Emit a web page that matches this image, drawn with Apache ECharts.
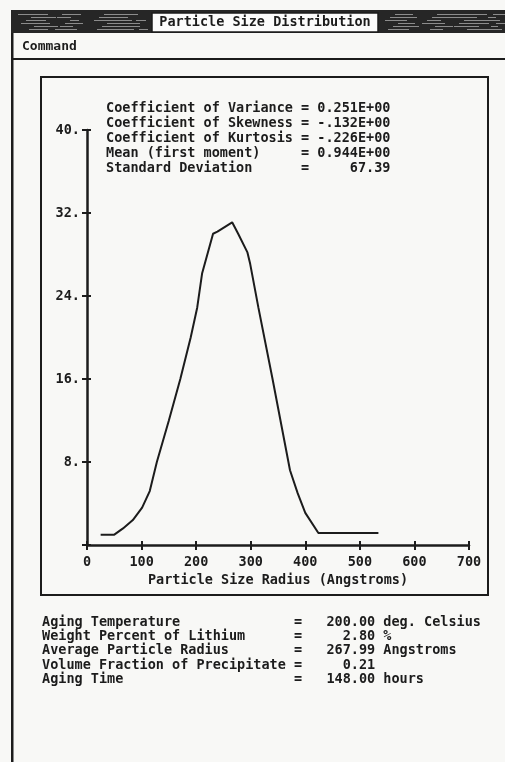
<!DOCTYPE html>
<html>
<head>
<meta charset="utf-8">
<script src="https://cdn.jsdelivr.net/npm/echarts@6/dist/echarts.min.js"></script>
<style>
html,body{margin:0;padding:0;background:#f8f8f6;}
#chart{width:505px;height:762px;}
</style>
</head>
<body>
<div id="chart"></div>
<script>
// Particle size radius (Angstroms) and frequency values
var radius = [25, 50, 66, 84, 101, 115, 128, 150, 171, 190, 202, 211, 231, 239, 266, 277, 294, 299, 314, 340, 372, 386, 400, 424, 534];
var frequency = [1.0, 1.0, 1.6, 2.4, 3.6, 5.2, 8.0, 12.0, 16.0, 20.0, 22.9, 26.2, 30.0, 30.2, 31.1, 30.0, 28.2, 27.1, 22.9, 16.0, 7.2, 5.0, 3.1, 1.15, 1.15];
var yTickLabels = ['', '8.', '16.', '24.', '32.', '40.'];
var statsLines = [
  'Coefficient of Variance = 0.251E+00',
  'Coefficient of Skewness = -.132E+00',
  'Coefficient of Kurtosis = -.226E+00',
  'Mean (first moment)     = 0.944E+00',
  'Standard Deviation      =     67.39'
];
var infoLines = [
  'Aging Temperature              =   200.00 deg. Celsius',
  'Weight Percent of Lithium      =     2.80 %',
  'Average Particle Radius        =   267.99 Angstroms',
  'Volume Fraction of Precipitate =     0.21',
  'Aging Time                     =   148.00 hours'
];
var titleText = 'Particle Size Distribution';
var menuText = 'Command';
var xAxisTitle = 'Particle Size Radius (Angstroms)';

var ink = '#1c1c1c';
var FONT = "'DejaVu Sans Mono', monospace";
var chart = echarts.init(document.getElementById('chart'), null, {renderer: 'canvas'});

var pts = radius.map(function (r, i) { return [r, frequency[i]]; });

function texture() {
  var els = [];
  var rows = [14, 17, 20, 23, 26, 29];
  var segs = [[18, 30], [55, 22], [90, 40], [125, 15], [385, 30], [420, 25], [450, 35], [480, 20]];
  rows.forEach(function (y, ri) {
    segs.forEach(function (s, si) {
      var x = s[0] + ((ri * 13 + si * 7) % 18);
      var w = s[1] - (ri * 5 + si * 3) % 14;
      if (x + w > 148 && x < 382) return;
      els.push({type: 'rect', shape: {x: x, y: y, width: w, height: 1}, style: {fill: '#8c8c8c'}, z: 3});
    });
  });
  return els;
}

var graphics = [
  // window left border
  {type: 'rect', shape: {x: 11, y: 10, width: 2.5, height: 752}, style: {fill: ink}, z: 2},
  // title bar
  {type: 'rect', shape: {x: 11, y: 10, width: 494, height: 23}, style: {fill: '#262626'}, z: 2},
  {type: 'rect', shape: {x: 152, y: 13, width: 226, height: 19}, style: {fill: '#fbfbfb', stroke: ink, lineWidth: 1.5}, z: 4},
  {type: 'text', x: 265, y: 22.5, style: {text: titleText, font: 'bold 13.5px ' + FONT, fill: ink, align: 'center', verticalAlign: 'middle'}, z: 5},
  // menu line
  {type: 'text', x: 22, y: 47, style: {text: menuText, font: 'bold 13px ' + FONT, fill: ink, align: 'left', verticalAlign: 'middle'}, z: 5},
  {type: 'rect', shape: {x: 11, y: 58, width: 494, height: 2}, style: {fill: ink}, z: 2},
  // plot frame
  {type: 'rect', shape: {x: 41, y: 77, width: 447, height: 518}, style: {fill: 'none', stroke: ink, lineWidth: 2}, z: 2},
  // statistics
  {type: 'text', x: 106, y: 100.5, style: {text: statsLines.join('\n'), font: 'bold 13.5px ' + FONT, lineHeight: 15, fill: ink, align: 'left', verticalAlign: 'top'}, z: 5},
  // info block
  {type: 'text', x: 42, y: 615, style: {text: infoLines.join('\n'), font: 'bold 13.5px ' + FONT, lineHeight: 14.3, fill: ink, align: 'left', verticalAlign: 'top'}, z: 5}
].concat(texture());

var axisLine = {show: true, lineStyle: {color: ink, width: 2.5}};
var option = {
  backgroundColor: '#f8f8f6',
  animation: false,
  grid: {left: 87, right: 36, top: 130, bottom: 217, containLabel: false},
  xAxis: [{
    type: 'value', min: 0, max: 700, interval: 100,
    axisLine: axisLine,
    axisTick: {show: true, length: 5, lineStyle: {color: ink, width: 2}},
    axisLabel: {show: true, margin: 10, color: ink, fontFamily: FONT, fontWeight: 'bold', fontSize: 13.5},
    splitLine: {show: false},
    name: xAxisTitle, nameLocation: 'middle', nameGap: 27,
    nameTextStyle: {color: ink, fontFamily: FONT, fontWeight: 'bold', fontSize: 13.5}
  }, {
    type: 'value', min: 0, max: 700, interval: 100, position: 'bottom',
    axisLine: {show: false},
    axisTick: {show: true, inside: true, length: 4, lineStyle: {color: ink, width: 2}},
    axisLabel: {show: false}, splitLine: {show: false}
  }],
  yAxis: [{
    type: 'value', min: 0, max: 40, interval: 8,
    axisLine: axisLine,
    axisTick: {show: true, length: 5, lineStyle: {color: ink, width: 2}},
    axisLabel: {show: true, margin: 7, color: ink, fontFamily: FONT, fontWeight: 'bold', fontSize: 13.5,
      formatter: function (v) { return yTickLabels[Math.round(v / 8)]; }},
    splitLine: {show: false}
  }, {
    type: 'value', min: 0, max: 40, interval: 8, position: 'left',
    axisLine: {show: false},
    axisTick: {show: true, inside: true, length: 4, lineStyle: {color: ink, width: 2}},
    axisLabel: {show: false}, splitLine: {show: false}
  }],
  series: [{
    type: 'line', data: pts, xAxisIndex: 0, yAxisIndex: 0,
    showSymbol: false, smooth: false,
    lineStyle: {color: ink, width: 2}
  }],
  graphic: graphics
};
chart.setOption(option);
</script>
</body>
</html>
